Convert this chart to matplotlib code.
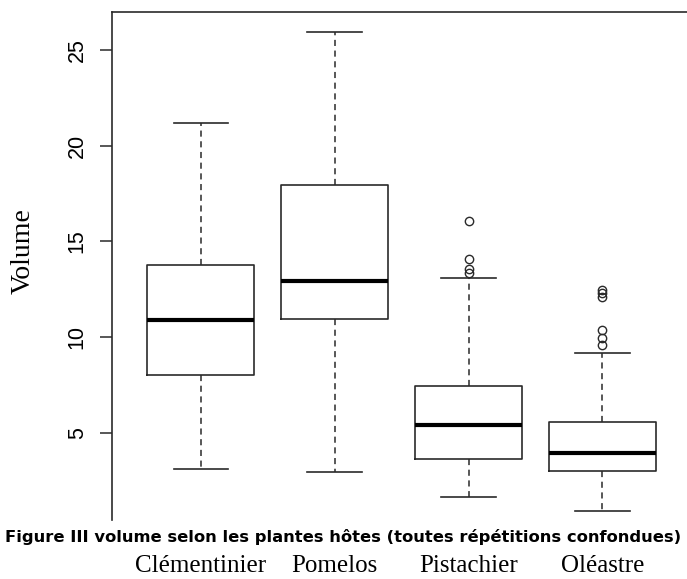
import matplotlib
matplotlib.use("Agg")
import matplotlib.pyplot as plt

# values
categories = ["Clémentinier", "Pomelos", "Pistachier", "Oléastre"]
whisker_low = [3.14, 2.96, 1.66, 0.94]
q1 = [8.03, 10.95, 3.64, 3.03]
medians = [10.90, 12.92, 5.42, 3.96]
q3 = [13.77, 17.94, 7.45, 5.59]
whisker_high = [21.19, 25.93, 13.09, 9.19]
outliers = [
    [],
    [],
    [16.09, 14.09, 13.56, 13.35],
    [12.47, 12.30, 12.10, 10.38, 9.96, 9.60],
]
yticks = [5, 10, 15, 20, 25]
caption = "Figure III volume selon les plantes hôtes (toutes répétitions confondues)"

W, H = 687, 579
fig = plt.figure(figsize=(W / 100, H / 100), dpi=100)
# axes box is cropped on the right and bottom in the reference
ax = fig.add_axes([112 / W, 1 - 520 / H, 588 / W, 508 / H])

stats = []
for i, name in enumerate(categories):
    stats.append(dict(label=name, whislo=whisker_low[i], q1=q1[i], med=medians[i],
                      q3=q3[i], whishi=whisker_high[i], fliers=outliers[i]))

ax.bxp(stats, positions=[1, 2, 3, 4], widths=0.8, showfliers=True,
       boxprops=dict(color="#2a2a2a", linewidth=1.2),
       medianprops=dict(color="black", linewidth=3.0),
       whiskerprops=dict(color="#2a2a2a", linewidth=1.1, linestyle=(0, (4, 3))),
       capprops=dict(color="#2a2a2a", linewidth=1.2),
       capwidths=0.41,
       flierprops=dict(marker="o", markerfacecolor="none", markeredgecolor="#2a2a2a",
                       markersize=6, markeredgewidth=1.0))

ax.set_xlim(0.335, 4.73)
ax.set_ylim(0.457, 26.98)
ax.set_yticks(yticks)
ax.set_yticklabels([str(t) for t in yticks], rotation=90, va="center",
                   fontfamily="Liberation Sans", fontsize=15.5)
ax.tick_params(axis="y", length=8.5, width=1.1, pad=9, color="#2a2a2a")
ax.set_xticks([])
ax.spines["bottom"].set_visible(False)
for s in ["left", "top"]:
    ax.spines[s].set_linewidth(1.2)
    ax.spines[s].set_color("#2a2a2a")

fig.text(23 / W, 1 - 251 / H, "Volume", fontfamily="Liberation Serif", fontsize=20,
         rotation=90, ha="center", va="center")

# category names along the bottom edge, under each box
for i, name in enumerate(categories):
    x = ax.transData.transform((i + 1, 0))[0] / W
    fig.text(x, 1 - 572 / H, name, fontfamily="Liberation Serif", fontsize=18,
             ha="center", va="baseline")

fig.text(5 / W, 1 - 542 / H, caption,
         fontfamily="DejaVu Sans", fontweight="bold", fontsize=11.8, va="baseline", ha="left")

fig.savefig("out.png", dpi=100)
